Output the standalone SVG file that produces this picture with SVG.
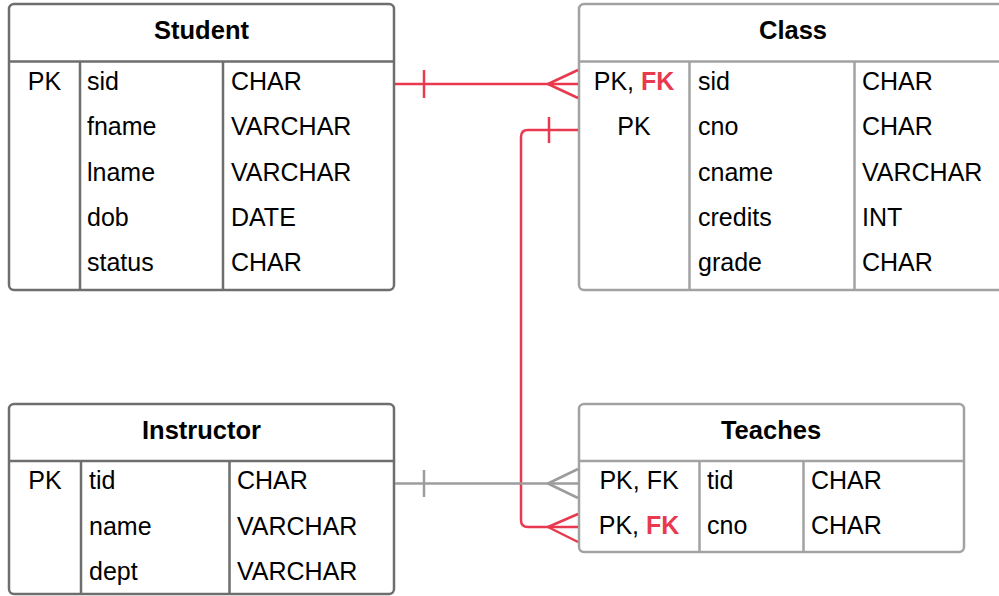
<svg xmlns="http://www.w3.org/2000/svg" width="999" height="596" viewBox="0 0 999 596">
<style>
  .box { fill: #ffffff; stroke-width: 2.5; }
  .dark { stroke: #6e6e6e; }
  .light { stroke: #a2a2a2; }
  .div { stroke-width: 2.5; fill: none; }
  .title { font-family: "Liberation Sans", Arial, sans-serif; font-size: 25.5px; font-weight: bold; fill: #000; text-anchor: middle; }
  .t { font-family: "Liberation Sans", Arial, sans-serif; font-size: 25px; fill: #000; }
  .c { text-anchor: middle; }
  .fk { fill: #e8394f; font-weight: bold; }
  .red { stroke: #e8394f; stroke-width: 2.5; fill: none; stroke-linejoin: round; }
  .gray { stroke: #9c9c9c; stroke-width: 2.5; fill: none; stroke-linejoin: round; }
</style>
<rect width="999" height="596" fill="#ffffff"/>

<g id="student">
  <rect class="box dark" x="9" y="4" width="385" height="286" rx="5"/>
  <path class="div dark" d="M9,61.5 H394 M80,61.5 V290 M223,61.5 V290"/>
  <text class="title" x="201.5" y="39">Student</text>
  <text class="t c" x="44.5" y="90">PK</text>
  <text class="t" x="87" y="90">sid</text>
  <text class="t" x="231" y="90">CHAR</text>
  <text class="t" x="87" y="135.25">fname</text>
  <text class="t" x="231" y="135.25">VARCHAR</text>
  <text class="t" x="87" y="180.5">lname</text>
  <text class="t" x="231" y="180.5">VARCHAR</text>
  <text class="t" x="87" y="225.75">dob</text>
  <text class="t" x="231" y="225.75">DATE</text>
  <text class="t" x="87" y="271">status</text>
  <text class="t" x="231" y="271">CHAR</text>
</g>

<g id="class">
  <rect class="box light" x="579" y="4" width="428" height="286" rx="5"/>
  <path class="div light" d="M579,61.5 H1007 M689.5,61.5 V290 M854.5,61.5 V290"/>
  <text class="title" x="793" y="39">Class</text>
  <text class="t c" x="634" y="90"><tspan>PK, </tspan><tspan class="fk">FK</tspan></text>
  <text class="t" x="698" y="90">sid</text>
  <text class="t" x="862" y="90">CHAR</text>
  <text class="t c" x="634" y="135.25">PK</text>
  <text class="t" x="698" y="135.25">cno</text>
  <text class="t" x="862" y="135.25">CHAR</text>
  <text class="t" x="698" y="180.5">cname</text>
  <text class="t" x="862" y="180.5">VARCHAR</text>
  <text class="t" x="698" y="225.75">credits</text>
  <text class="t" x="862" y="225.75">INT</text>
  <text class="t" x="698" y="271">grade</text>
  <text class="t" x="862" y="271">CHAR</text>
</g>

<g id="instructor">
  <rect class="box dark" x="9" y="404" width="385" height="190" rx="5"/>
  <path class="div dark" d="M9,461 H394 M81,461 V594 M229.5,461 V594"/>
  <text class="title" x="201.5" y="438.5">Instructor</text>
  <text class="t c" x="45" y="489">PK</text>
  <text class="t" x="89" y="489">tid</text>
  <text class="t" x="237" y="489">CHAR</text>
  <text class="t" x="89" y="534.5">name</text>
  <text class="t" x="237" y="534.5">VARCHAR</text>
  <text class="t" x="89" y="580">dept</text>
  <text class="t" x="237" y="580">VARCHAR</text>
</g>

<g id="teaches">
  <rect class="box light" x="579" y="404" width="385" height="148" rx="5"/>
  <path class="div light" d="M579,461 H964 M699.5,461 V552 M803.5,461 V552"/>
  <text class="title" x="771" y="438.5">Teaches</text>
  <text class="t c" x="639" y="488.5"><tspan>PK, FK</tspan></text>
  <text class="t" x="707" y="488.5">tid</text>
  <text class="t" x="811" y="488.5">CHAR</text>
  <text class="t c" x="639" y="534"><tspan>PK, </tspan><tspan class="fk">FK</tspan></text>
  <text class="t" x="707" y="534">cno</text>
  <text class="t" x="811" y="534">CHAR</text>
</g>

<g id="connectors">
  <g id="student-class">
    <path class="red" d="M395,84 H578"/>
    <path class="red" d="M424,70 V98"/>
    <path class="red" d="M578,70 L548,84 L578,98"/>
  </g>
  <g id="class-teaches">
    <path class="red" d="M578,130 H528 Q521,130 521,137 V520 Q521,527 528,527 H578"/>
    <path class="red" d="M549,117 V143"/>
    <path class="red" d="M578,514 L548,527 L578,542"/>
  </g>
  <g id="instructor-teaches">
    <path class="gray" d="M395,483.5 H578"/>
    <path class="gray" d="M424,470 V497"/>
    <path class="gray" d="M578,469 L548,483.5 L578,498"/>
  </g>
</g>
</svg>
